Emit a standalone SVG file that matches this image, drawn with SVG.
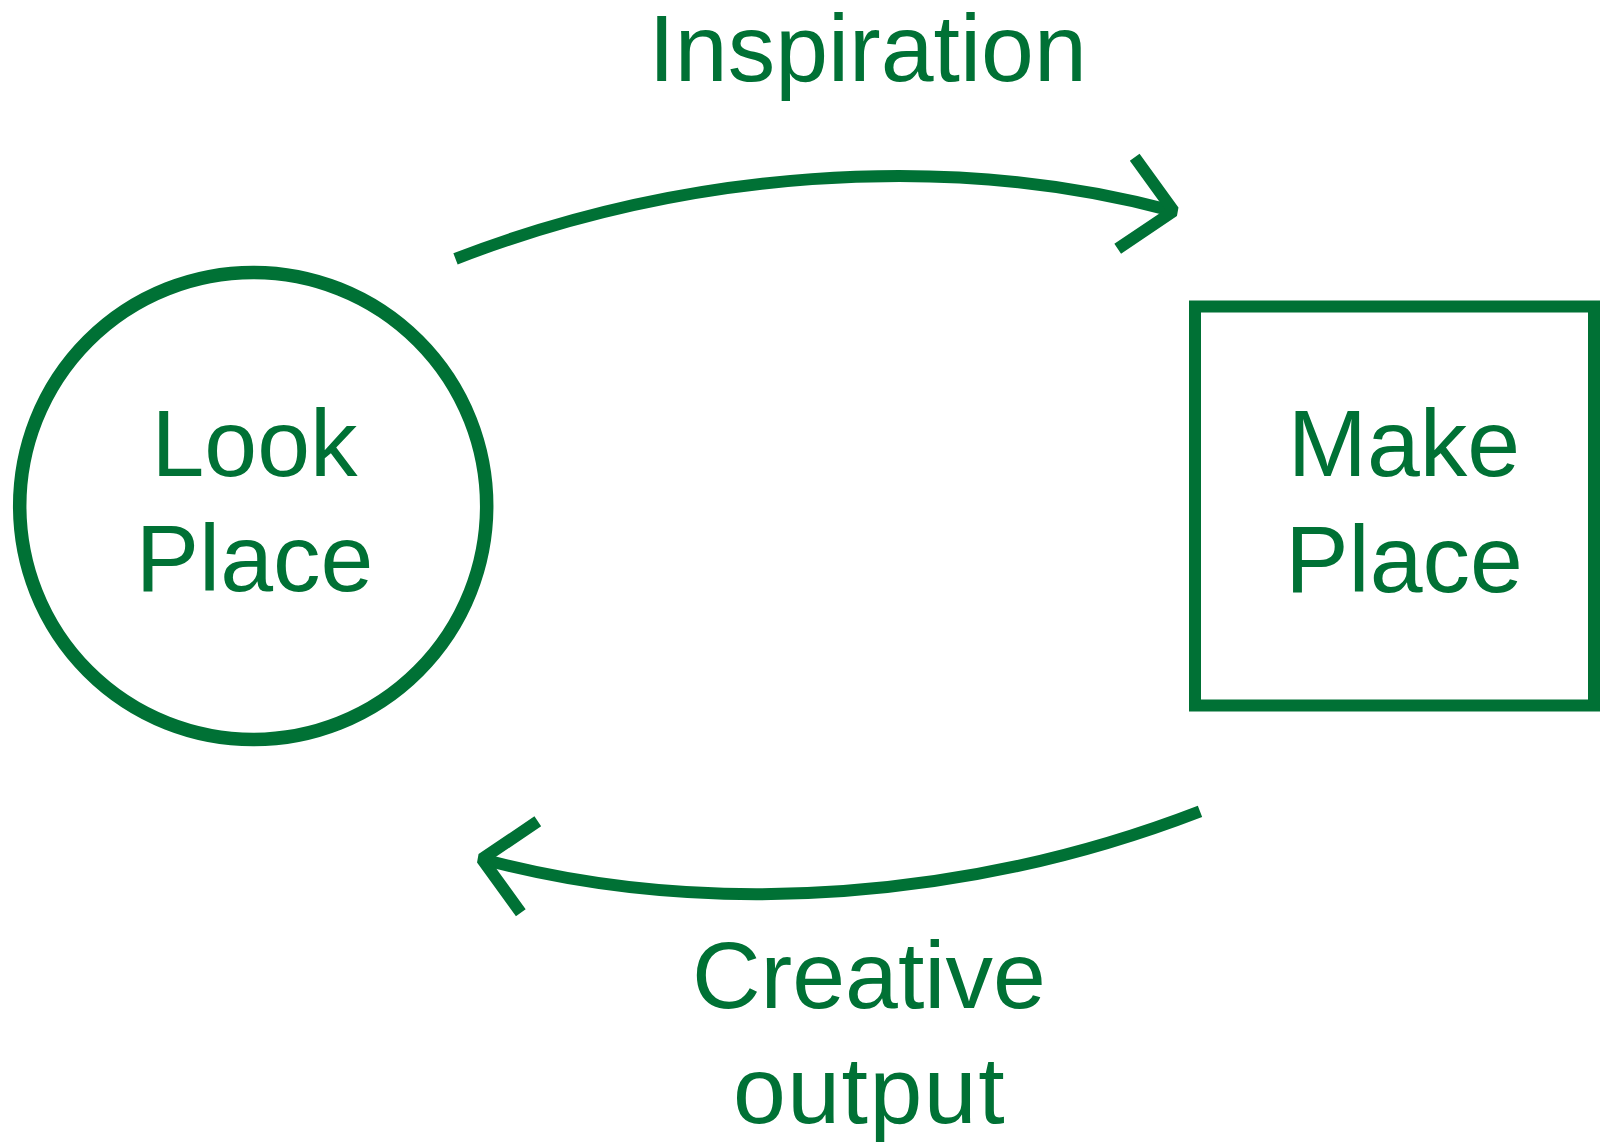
<svg xmlns="http://www.w3.org/2000/svg" width="1600" height="1142" viewBox="0 0 1600 1142">
  <style>
    .lbl { font-family: "Liberation Sans", Arial, sans-serif; font-size: 95px; fill: #007135; text-anchor: middle; }
    .shape { fill: none; stroke: #007135; }
    .conn { fill: none; stroke: #007135; stroke-width: 12; stroke-linecap: butt; stroke-linejoin: bevel; }
  </style>
  <rect width="1600" height="1142" fill="#ffffff"/>
  <g id="look-place">
    <circle class="shape" cx="253.2" cy="506" r="233.5" stroke-width="13.5"/>
    <text class="lbl" x="254.5" y="476">Look</text>
    <text class="lbl" x="254.5" y="591">Place</text>
  </g>
  <g id="make-place">
    <rect class="shape" x="1195" y="306.5" width="399" height="399" stroke-width="12"/>
    <text class="lbl" x="1404" y="476">Make</text>
    <text class="lbl" x="1404" y="591.5">Place</text>
  </g>
  <g id="connectors">
    <g id="inspiration-arrow">
      <path class="conn" d="M455.5,258.8 C680.2,172.1 941.8,148.9 1173.6,211.1"/>
      <polyline class="conn" points="1134.7,157.3 1173.6,211.1 1117.7,248.8"/>
    </g>
    <g id="creative-output-arrow">
      <path class="conn" d="M1200,811.3 C975.3,898 713.7,921.2 481.9,859"/>
      <polyline class="conn" points="520.8,912.8 481.9,859 537.8,821.3"/>
    </g>
  </g>
  <g id="labels">
    <text class="lbl" x="867.6" y="81">Inspiration</text>
    <text class="lbl" x="868.9" y="1008.3">Creative</text>
    <text class="lbl" x="869.5" y="1122.7" letter-spacing="1.5">output</text>
  </g>
</svg>
